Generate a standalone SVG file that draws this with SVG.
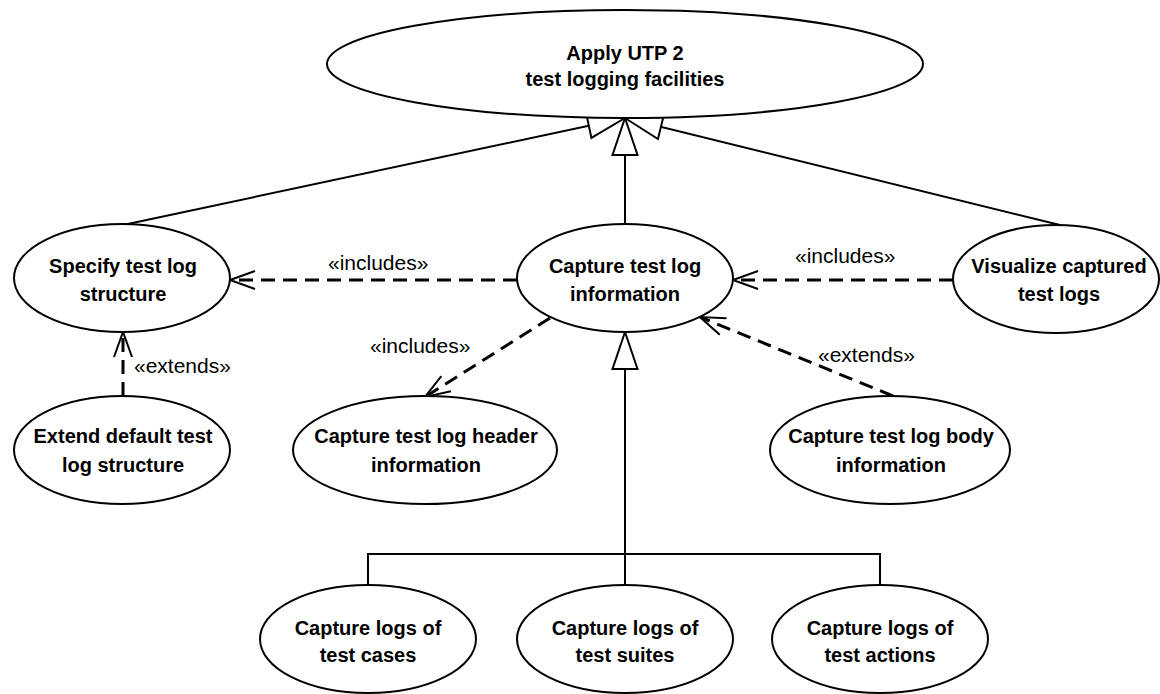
<svg xmlns="http://www.w3.org/2000/svg" width="1160" height="694" viewBox="0 0 1160 694">
<style>
  .uc ellipse { fill: #fff; stroke: #000; stroke-width: 2; }
  .uc text { font-family: "Liberation Sans", Arial, sans-serif; font-weight: bold; font-size: 20px; text-anchor: middle; fill: #000; }
  .gen { fill: none; stroke: #000; stroke-width: 2; }
  .dep { fill: none; stroke: #000; stroke-width: 3; stroke-dasharray: 14 8; }
  .lbl { font-family: "Liberation Sans", Arial, sans-serif; font-size: 21px; fill: #000; }
</style>
<defs>
  <marker id="tri" markerUnits="userSpaceOnUse" viewBox="-40 -15 42 30" markerWidth="42" markerHeight="30" refX="0" refY="0" orient="auto" overflow="visible">
    <path d="M0,0 L-37,-12.5 L-37,12.5 Z" fill="#fff" stroke="#000" stroke-width="2"/>
  </marker>
  <marker id="open" markerUnits="userSpaceOnUse" viewBox="-30 -12 32 24" markerWidth="32" markerHeight="24" refX="0" refY="0" orient="auto" overflow="visible">
    <path d="M-25,-9 L0,0 L-25,9" fill="none" stroke="#000" stroke-width="2" stroke-dasharray="none"/>
  </marker>
</defs>
<rect width="1160" height="694" fill="#fff"/>

<g id="connectors">
  <!-- generalizations to top -->
  <path class="gen" d="M625,225 L625,118" marker-end="url(#tri)"/>
  <path class="gen" d="M123,225 L625,118" marker-end="url(#tri)"/>
  <path class="gen" d="M1060,225 L625,118" marker-end="url(#tri)"/>
  <!-- generalization tree below -->
  <path class="gen" d="M368,585 V554 H880 V585"/>
  <path class="gen" d="M625,585 V332" marker-end="url(#tri)"/>
  <!-- dependencies -->
  <path class="dep" d="M517,280 L230,280" marker-end="url(#open)"/>
  <path class="dep" d="M953,280 L733,280" marker-end="url(#open)"/>
  <path class="dep" d="M550,318 L425,397" marker-end="url(#open)"/>
  <path class="dep" d="M893,396 L700,317" marker-end="url(#open)"/>
  <path class="dep" d="M123,396 L123,332" marker-end="url(#open)"/>
  <text class="lbl" x="328" y="270">«includes»</text>
  <text class="lbl" x="795" y="263">«includes»</text>
  <text class="lbl" x="370" y="353">«includes»</text>
  <text class="lbl" x="818" y="362">«extends»</text>
  <text class="lbl" x="134" y="373">«extends»</text>
</g>

<g id="apply" class="uc">
  <ellipse cx="625" cy="64" rx="298" ry="54"/>
  <text x="625" y="60">Apply UTP 2</text>
  <text x="625" y="86">test logging facilities</text>
</g>
<g id="specify" class="uc">
  <ellipse cx="122" cy="278" rx="108" ry="54"/>
  <text x="123" y="273">Specify test log</text>
  <text x="123" y="301">structure</text>
</g>
<g id="capture-info" class="uc">
  <ellipse cx="625" cy="278" rx="108" ry="54"/>
  <text x="625" y="273">Capture test log</text>
  <text x="625" y="301">information</text>
</g>
<g id="visualize" class="uc">
  <ellipse cx="1056" cy="279" rx="103" ry="54"/>
  <text x="1059" y="273">Visualize captured</text>
  <text x="1059" y="301">test logs</text>
</g>
<g id="extend-default" class="uc">
  <ellipse cx="122" cy="450" rx="108" ry="54"/>
  <text x="123" y="443">Extend default test</text>
  <text x="123" y="472">log structure</text>
</g>
<g id="header" class="uc">
  <ellipse cx="425" cy="450" rx="132" ry="54"/>
  <text x="426" y="443">Capture test log header</text>
  <text x="426" y="472">information</text>
</g>
<g id="body" class="uc">
  <ellipse cx="890" cy="450" rx="120" ry="54"/>
  <text x="891" y="443">Capture test log body</text>
  <text x="891" y="472">information</text>
</g>
<g id="cases" class="uc">
  <ellipse cx="368" cy="639" rx="108" ry="54"/>
  <text x="368" y="635">Capture logs of</text>
  <text x="368" y="662">test cases</text>
</g>
<g id="suites" class="uc">
  <ellipse cx="625" cy="639" rx="108" ry="54"/>
  <text x="625" y="635">Capture logs of</text>
  <text x="625" y="662">test suites</text>
</g>
<g id="actions" class="uc">
  <ellipse cx="880" cy="639" rx="108" ry="54"/>
  <text x="880" y="635">Capture logs of</text>
  <text x="880" y="662">test actions</text>
</g>
</svg>
